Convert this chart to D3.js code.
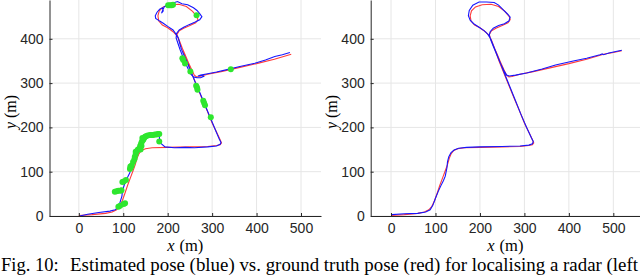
<!DOCTYPE html>
<html><head><meta charset="utf-8">
<script src="https://cdn.jsdelivr.net/npm/d3@7"></script>
<style>html,body{margin:0;padding:0;background:#fff;}svg{display:block;}</style>
</head><body>
<svg id="c" width="640" height="275"></svg>
<script>
// ---- data ----
const xTicks = [0, 100, 200, 300, 400, 500];
const yTicks = [0, 100, 200, 300, 400];
const xLabel = "(m)";
const captionHead = "Fig. 10:";
const captionBody = "Estimated pose (blue) vs. ground truth pose (red) for localising a radar (left";

const groundTruth = [[0,1],[30,3],[60,6],[75,9],[85,14],[92,22],[98,35],[104,52],[110,70],[116,86],[122,102],[127,116],[131,130],[135,140],[141,148],[150,152],[165,154],[200,155],[250,156],[290,157],[310,159],[318,161],[321,165],[318,172],[312,185],[300,210],[288,240],[276,268],[265,295],[254,322],[243,350],[233,378],[226,397],[220,408],[212,416],[200,425],[188,431],[180,440],[178,452],[181,463],[190,472],[205,477],[225,478],[242,473],[256,462],[266,450],[268,443],[263,436],[250,430],[236,424],[226,418],[221,410],[224,400],[230,385],[238,367],[246,348],[254,330],[260,318],[265,314],[272,315],[290,320],[320,326],[360,335],[400,344],[440,354],[478,365]];
const groundTruthTailRight = [[500,369],[519,373]];

const estimateLeft = [[2,0],[20,4],[45,8],[70,11],[82,14],[90,22],[93,32],[97,45],[98,55],[101,66],[105,78],[110,88],[115,98],[118,108],[122,122],[127,135],[132,146],[136,158],[141,167],[146,176],[155,181],[168,184],[180,186],[182,172],[186,163],[194,156],[215,154],[240,155],[260,154],[290,156],[310,158],[318,162],[320,166],[316,174],[310,188],[300,212],[290,236],[280,260],[270,284],[262,302],[254,322],[246,342],[238,360],[231,376],[227,390],[224,402],[219,410],[212,420],[200,428],[190,435],[182,440],[173,446],[172,452],[176,460],[182,467],[188,470],[190,463],[186,458],[192,472],[200,478],[212,481],[222,484],[232,479],[245,477],[258,470],[266,464],[272,457],[277,450],[272,443],[262,438],[248,432],[236,426],[226,420],[220,412],[219,402],[223,390],[228,375],[234,360],[240,345],[247,330],[252,320],[258,314],[266,312],[274,312],[281,315],[276,318],[268,316],[274,318],[290,321],[310,325],[336,331],[360,337],[396,345],[420,352],[441,360],[458,364],[475,369]];

const estimateRight = [[2,3],[30,5],[60,6],[78,9],[88,14],[94,24],[100,40],[106,55],[112,68],[118,80],[122,90],[124,100],[126,110],[127,122],[130,134],[135,143],[142,149],[152,153],[170,155],[200,156],[250,157],[290,158],[310,160],[318,163],[320,168],[316,176],[305,200],[292,230],[280,260],[268,290],[258,315],[248,340],[238,365],[230,385],[224,400],[218,410],[210,418],[198,426],[186,434],[178,442],[174,452],[176,464],[184,476],[198,483],[215,483],[232,482],[242,476],[252,466],[262,456],[268,449],[265,440],[255,434],[242,430],[230,424],[223,416],[221,408],[224,398],[230,383],[238,364],[246,345],[254,328],[260,318],[266,316],[280,318],[305,323],[340,332],[370,341],[410,350],[440,356],[470,364],[475,366],[478,364],[490,368],[519,374]];

const greenPoints = [[89,21],[93,23],[104,29],[101,27],[81,55],[85,56],[89,57],[94,57],[96,58],[98,77],[101,78],[106,81],[115,106],[117,110],[119,114],[116,112],[122,122],[125,128],[126,134],[128,140],[128,145],[130,146],[133,150],[137,153],[138,158],[140,162],[141,166],[143,170],[145,172],[147,176],[149,179],[151,180],[155,182],[160,183],[164,183],[167,183],[171,184],[175,184],[178,185],[181,185],[181,168],[141,158],[139,150],[143,176],[201,476],[205,476],[209,476],[212,477],[265,453],[233,356],[235,352],[239,344],[251,326],[264,294],[266,290],[267,285],[280,260],[282,255],[284,250],[297,223],[342,331]];

// ---- drawing ----
const svg = d3.select("#c");
const y = d3.scaleLinear().domain([0, 487.6]).range([216, 0]);
const panels = [
  {x: d3.scaleLinear().domain([-66, 545]).range([49.5, 321]), gt: groundTruth, est: estimateLeft, green: greenPoints, ylab: 16},
  {x: d3.scaleLinear().domain([-45.7, 560]).range([370.7, 640]), gt: groundTruth.concat(groundTruthTailRight), est: estimateRight, green: [], ylab: 337}
];

const axisColor = "#262626";
const serif = "'Liberation Serif', 'Times New Roman', serif";
panels.forEach(p => {
  const g = svg.append("g");
  const [x0, x1] = p.x.range();
  // grid
  g.selectAll(".gx").data(xTicks).join("line")
    .attr("x1", d => p.x(d)).attr("x2", d => p.x(d)).attr("y1", 0).attr("y2", 216)
    .attr("stroke", "#e6e6e6").attr("stroke-width", 1);
  g.selectAll(".gy").data(yTicks).join("line")
    .attr("x1", x0).attr("x2", x1).attr("y1", d => y(d)).attr("y2", d => y(d))
    .attr("stroke", "#e6e6e6").attr("stroke-width", 1);

  const line = d3.line().x(d => p.x(d[0])).y(d => y(d[1]));
  g.append("path").attr("d", line(p.gt)).attr("fill", "none")
    .attr("stroke", "#ff3b3b").attr("stroke-width", 1.1);
  g.append("path").attr("d", line(p.est)).attr("fill", "none")
    .attr("stroke", "#1515ff").attr("stroke-width", 1.1);
  g.selectAll(".gp").data(p.green).join("circle")
    .attr("cx", d => p.x(d[0])).attr("cy", d => y(d[1])).attr("r", 3)
    .attr("fill", "#2ee62e");

  // axes
  const ax = g.append("g").attr("transform", "translate(0,216)")
    .call(d3.axisBottom(p.x).tickValues(xTicks).tickSizeInner(-3).tickSizeOuter(0).tickPadding(7));
  const ay = g.append("g").attr("transform", `translate(${x0},0)`)
    .call(d3.axisLeft(y).tickValues(yTicks).tickSizeInner(-3).tickSizeOuter(0).tickPadding(6));
  [ax, ay].forEach(a => {
    a.select(".domain").attr("stroke", axisColor).attr("stroke-width", 1);
    a.selectAll(".tick line").attr("stroke", axisColor);
    a.selectAll("text").attr("fill", axisColor).style("font-family", "'Liberation Sans', Arial, sans-serif").style("font-size", "14px");
  });

  // axis labels
  const xl = g.append("text").attr("x", (x0 + x1) / 2).attr("y", 251).attr("text-anchor", "middle")
    .style("font-family", serif).style("font-size", "16.5px").attr("fill", "#000");
  xl.append("tspan").style("font-style", "italic").text("x");
  xl.append("tspan").attr("dx", 5).text(xLabel);
  const yl = g.append("text").attr("transform", `translate(${p.ylab},112) rotate(-90)`).attr("text-anchor", "middle")
    .style("font-family", serif).style("font-size", "16px").attr("fill", "#000");
  yl.append("tspan").style("font-style", "italic").text("y");
  yl.append("tspan").attr("dx", 4).text(xLabel);
});

// caption
const cap = svg.append("g").style("font-family", serif).style("font-size", "18.5px").attr("fill", "#000");
cap.append("text").attr("x", 1).attr("y", 270.5).text(captionHead);
cap.append("text").attr("x", 70).attr("y", 270.5)
  .attr("textLength", 568).attr("lengthAdjust", "spacingAndGlyphs").text(captionBody);
</script>
</body></html>
